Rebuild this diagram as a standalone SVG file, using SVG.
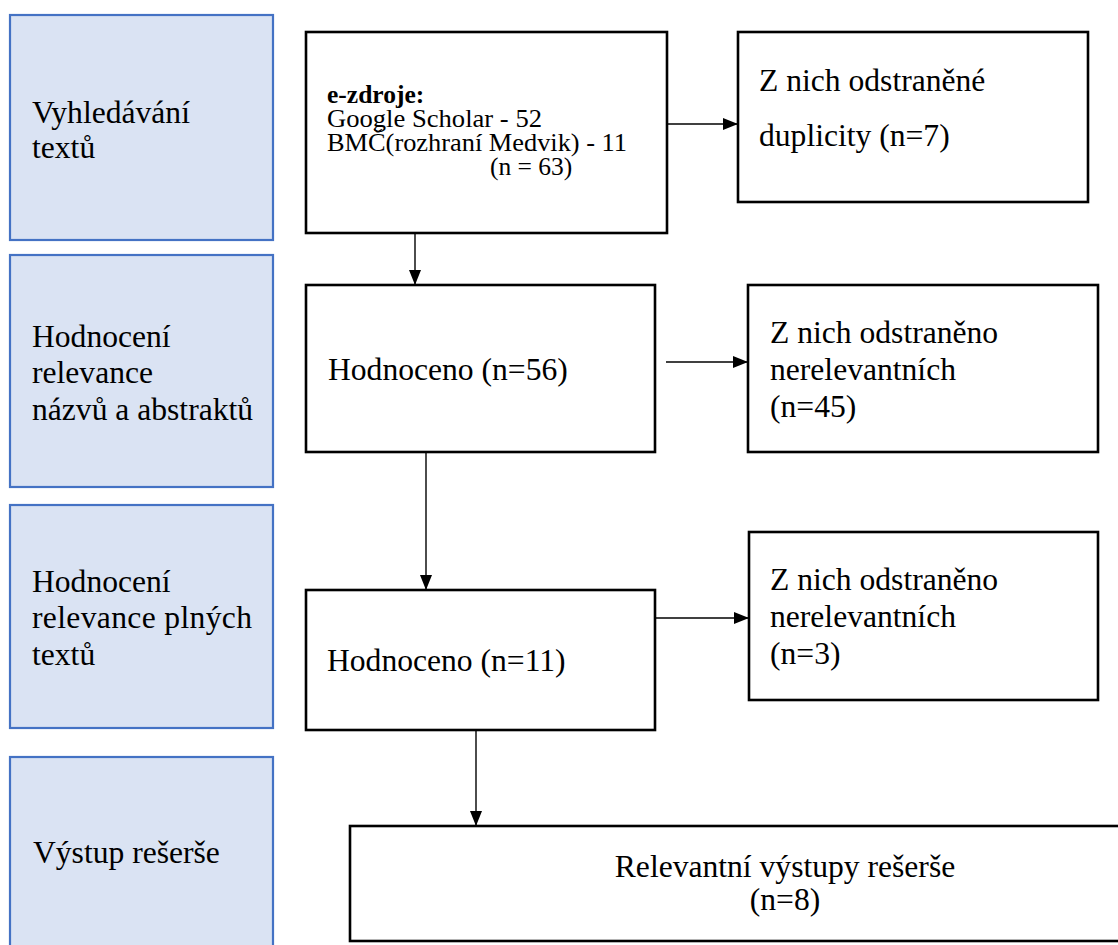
<svg xmlns="http://www.w3.org/2000/svg" width="1118" height="945" viewBox="0 0 1118 945">
<defs>
<style>
.stage{fill:#dae3f3;stroke:#4472c4;stroke-width:2.2}
.box{fill:#ffffff;stroke:#000000;stroke-width:2.6}
.t{font-family:"Liberation Serif","Times New Roman",serif;font-size:31.6px;fill:#000}
.s{font-family:"Liberation Serif","Times New Roman",serif;font-size:25.5px;fill:#000}
.c{fill:none;stroke:#000;stroke-width:1.4}
</style>
<marker id="ah" markerUnits="userSpaceOnUse" markerWidth="15" markerHeight="12" refX="15" refY="6" orient="auto">
<path d="M0,0 L15,6 L0,12 z" fill="#000"/>
</marker>
</defs>
<rect width="1118" height="945" fill="#ffffff"/>

<g id="stage1">
<rect class="stage" x="10" y="15" width="263" height="225"/>
<text class="t" x="32" y="123">Vyhledávání</text>
<text class="t" x="32" y="158">textů</text>
</g>
<g id="stage2">
<rect class="stage" x="10" y="255" width="263" height="232"/>
<text class="t" x="32" y="347">Hodnocení</text>
<text class="t" x="32" y="383">relevance</text>
<text class="t" x="32" y="420">názvů a abstraktů</text>
</g>
<g id="stage3">
<rect class="stage" x="10" y="505" width="263" height="223"/>
<text class="t" x="32" y="592">Hodnocení</text>
<text class="t" x="32" y="628" textLength="220" lengthAdjust="spacing">relevance plných</text>
<text class="t" x="32" y="665">textů</text>
</g>
<g id="stage4">
<rect class="stage" x="10" y="757" width="263" height="200"/>
<text class="t" x="33" y="863">Výstup rešerše</text>
</g>

<g id="ezdroje">
<rect class="box" x="306" y="32" width="361" height="201"/>
<text class="s" x="327" y="103" font-weight="bold">e-zdroje:</text>
<text class="s" x="327" y="127" textLength="215" lengthAdjust="spacingAndGlyphs">Google Scholar - 52</text>
<text class="s" x="327" y="151" textLength="300" lengthAdjust="spacingAndGlyphs">BMČ(rozhraní Medvik) - 11</text>
<text class="s" x="490" y="175">(n = 63)</text>
</g>
<g id="duplicity">
<rect class="box" x="738" y="32" width="350" height="170"/>
<text class="t" x="759" y="91">Z nich odstraněné</text>
<text class="t" x="759" y="146">duplicity (n=7)</text>
</g>
<g id="hodnoceno56">
<rect class="box" x="306" y="285" width="349" height="167"/>
<text class="t" x="328" y="380">Hodnoceno (n=56)</text>
</g>
<g id="nerel45">
<rect class="box" x="748" y="285" width="350" height="167"/>
<text class="t" x="770" y="343">Z nich odstraněno</text>
<text class="t" x="770" y="380">nerelevantních</text>
<text class="t" x="770" y="417">(n=45)</text>
</g>
<g id="hodnoceno11">
<rect class="box" x="306" y="590" width="349" height="140"/>
<text class="t" x="327" y="671">Hodnoceno (n=11)</text>
</g>
<g id="nerel3">
<rect class="box" x="749" y="532" width="349" height="168"/>
<text class="t" x="770" y="590">Z nich odstraněno</text>
<text class="t" x="770" y="627">nerelevantních</text>
<text class="t" x="770" y="664">(n=3)</text>
</g>
<g id="vystup">
<rect class="box" x="350" y="826" width="780" height="115"/>
<text class="t" x="785" y="877" text-anchor="middle">Relevantní výstupy rešerše</text>
<text class="t" x="785" y="910" text-anchor="middle">(n=8)</text>
</g>

<g id="connectors">
<line class="c" x1="667" y1="124" x2="738" y2="124" marker-end="url(#ah)"/>
<line class="c" x1="415" y1="233" x2="415" y2="285" marker-end="url(#ah)"/>
<line class="c" x1="666" y1="362" x2="748" y2="362" marker-end="url(#ah)"/>
<line class="c" x1="426" y1="452" x2="426" y2="590" marker-end="url(#ah)"/>
<line class="c" x1="655" y1="618" x2="749" y2="618" marker-end="url(#ah)"/>
<line class="c" x1="476" y1="730" x2="476" y2="826" marker-end="url(#ah)"/>
</g>
</svg>
